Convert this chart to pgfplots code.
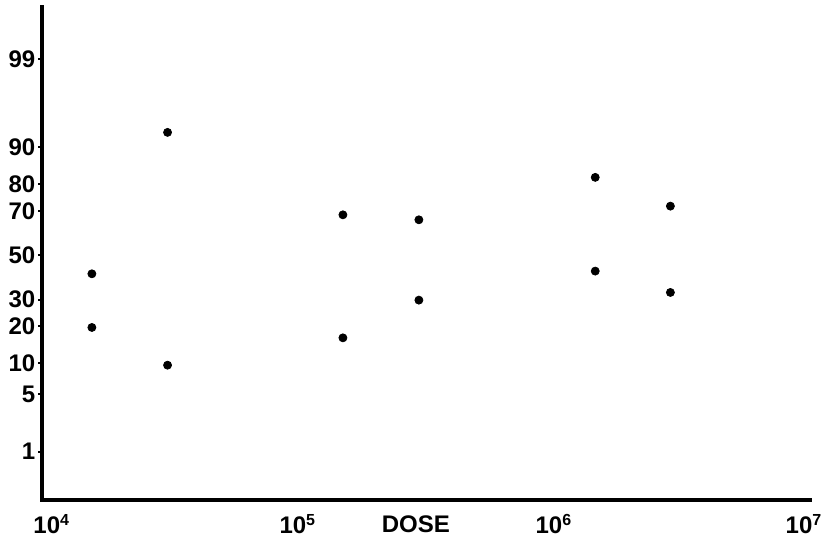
\documentclass[border=0pt]{standalone}
\usepackage{fontspec}
\setmainfont{Liberation Sans}
\usepackage{pgfplots}
\pgfplotsset{compat=1.18}
\usetikzlibrary{calc}

% y values are probits (normal quantiles) of the percentage
\pgfplotstableread{
dose    z
1.57e4  -0.219
1.57e4  -0.855
3.1e4    1.457
3.1e4   -1.302
1.5e5    0.480
1.5e5   -0.978
2.97e5   0.421
2.97e5  -0.531
1.45e6   0.924
1.45e6  -0.187
2.85e6   0.583
2.85e6  -0.440
}\doses

\newcommand{\shiftlab}[2]{\hspace*{#1}\makebox[0pt]{#2}\hspace*{-#1}}

\begin{document}
\begin{tikzpicture}
\begin{axis}[
  name=ax,
  scale only axis,
  width=384pt, height=246.5pt,
  xmode=log,
  xmin=1e4, xmax=1e7,
  ymin=-2.902, ymax=2.943,
  axis x line=bottom, axis y line=left,
  axis line style={-, line width=2pt, line cap=rect},
  xtick={1e4,1e5,1e6,1e7},
  xticklabels={\shiftlab{5pt}{10\textsuperscript{4}},10\textsuperscript{5},10\textsuperscript{6},\shiftlab{-3pt}{10\textsuperscript{7}}},
  xtick style={draw=none},
  xticklabel style={anchor=base, yshift=-15pt, font=\fontsize{12}{14}\selectfont\bfseries},
  ytick={-2.3263,-1.6449,-1.2816,-0.8416,-0.5244,0,0.5244,0.8416,1.2816,2.3263},
  yticklabels={1,5,10,20,30,50,70,80,90,99},
  ytick style={line width=1pt, black},
  tick align=outside,
  major tick length=1.8pt,
  yticklabel style={inner xsep=1.2pt, font=\fontsize{12}{14}\selectfont\bfseries},
  xlabel={DOSE},
  xlabel style={at={(axis description cs:0.487,0)}, anchor=base, yshift=-16pt, font=\fontsize{12}{14}\selectfont\bfseries},
  clip=false,
]
\addplot[only marks, mark=*, mark size=2pt, black] table[x=dose, y=z] {\doses};
\end{axis}
\pgfresetboundingbox
\useasboundingbox ($(ax.south west)+(-20.85pt,-20.5pt)$) rectangle ($(ax.north east)+(10.5pt,3.5pt)$);
\end{tikzpicture}
\end{document}
